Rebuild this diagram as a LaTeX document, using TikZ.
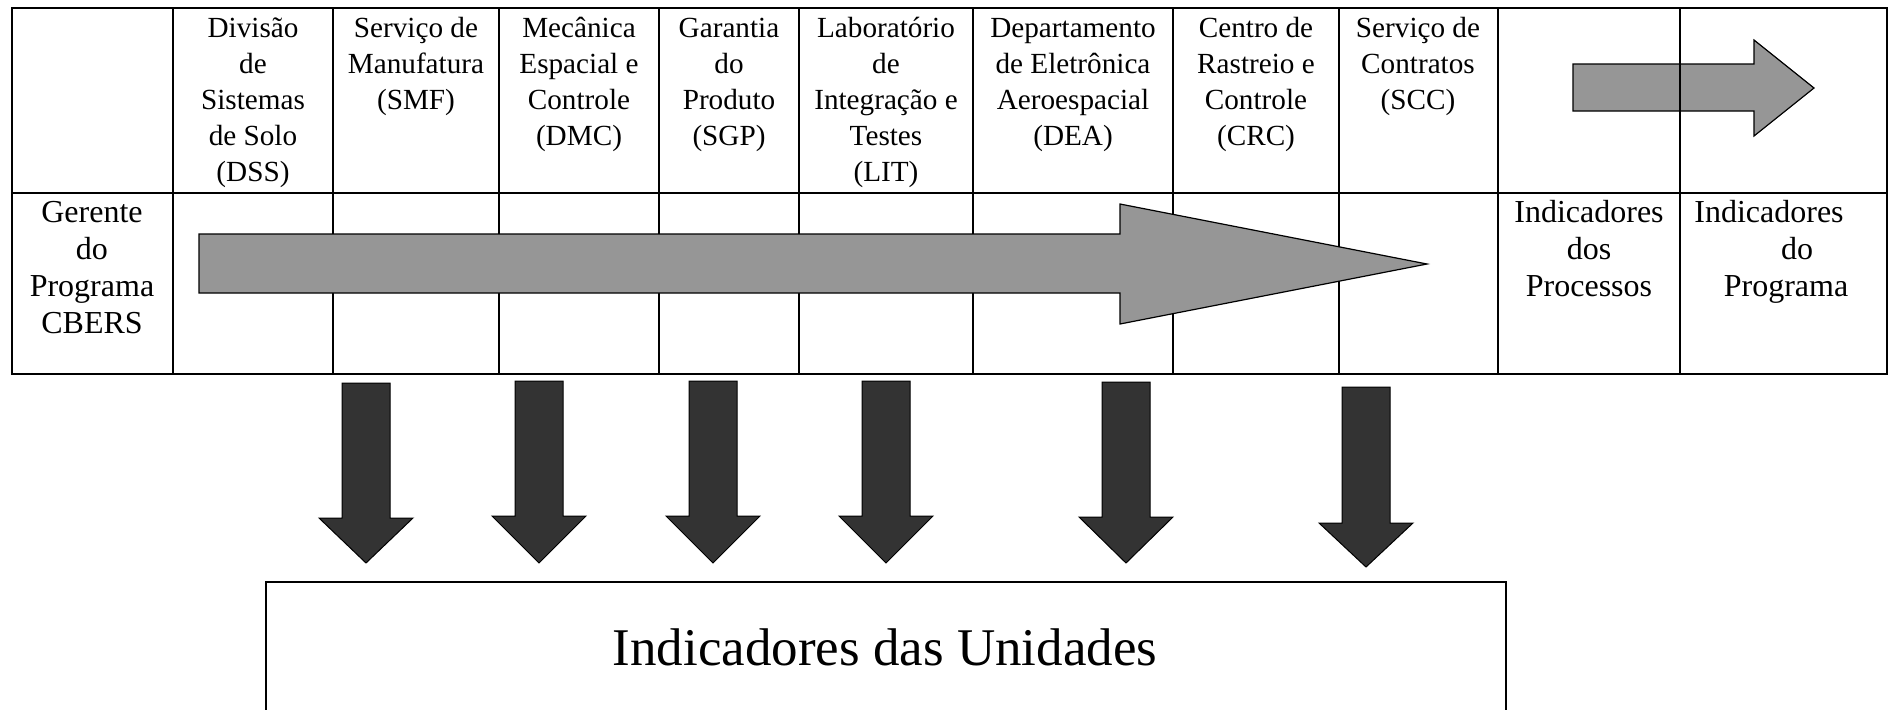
\documentclass[tikz,border=0pt]{standalone}
\usepackage{fontspec}
\setmainfont{Liberation Serif}
\definecolor{cinza}{HTML}{969696}
\definecolor{escuro}{HTML}{333333}
\tikzset{
  grade/.style={line width=1pt},
  celula/.style={align=center, anchor=base, inner sep=0, font=\fontsize{14.6}{18}\selectfont},
  linha/.style={celula, font=\fontsize{16}{18.35}\selectfont},
  setacinza/.style={draw=black, line width=0.6pt, fill=cinza},
  setaescura/.style={draw=black, line width=0.5pt, fill=escuro},
}

\begin{document}
\begin{tikzpicture}[x=0.5pt, y=-0.5pt]
	\useasboundingbox (0,0) rectangle (1890,709);

	% seta pequena, sob a grade
	\draw[setacinza] (1573,64) -- (1754,64) -- (1754,40) -- (1814,88) -- (1754,136) -- (1754,111) -- (1573,111) -- cycle;

	% grade
	\draw[grade] (12,8) rectangle (1887,374);
	\draw[grade] (12,193) -- (1887,193);
	\draw[grade] (173,8) -- (173,374);
	\draw[grade] (333,8) -- (333,374);
	\draw[grade] (499,8) -- (499,374);
	\draw[grade] (659,8) -- (659,374);
	\draw[grade] (799,8) -- (799,374);
	\draw[grade] (973,8) -- (973,374);
	\draw[grade] (1173,8) -- (1173,374);
	\draw[grade] (1339,8) -- (1339,374);
	\draw[grade] (1498,8) -- (1498,374);
	\draw[grade] (1680,8) -- (1680,374);

	% seta grande
	\draw[setacinza] (199,234) -- (1120,234) -- (1120,204) -- (1427,264) -- (1120,324) -- (1120,293) -- (199,293) -- cycle;

	% unidades (base = ultima linha)
	\node (dss) at (253,181) [celula] {Divisão\\de\\Sistemas\\de Solo\\(DSS)};
	\node (smf) at (416,109) [celula] {Serviço de\\Manufatura\\(SMF)};
	\node (dmc) at (579,145) [celula] {Mecânica\\Espacial e\\Controle\\(DMC)};
	\node (sgp) at (729,145) [celula] {Garantia\\do\\Produto\\(SGP)};
	\node (lit) at (886,181) [celula] {Laboratório\\de\\Integração e\\Testes\\(LIT)};
	\node (dea) at (1073,145) [celula] {Departamento\\de Eletrônica\\Aeroespacial\\(DEA)};
	\node (crc) at (1256,145) [celula] {Centro de\\Rastreio e\\Controle\\(CRC)};
	\node (scc) at (1418,109) [celula] {Serviço de\\Contratos\\(SCC)};

	\node (gerente) at (92,333) [linha] {Gerente\\do\\Programa\\CBERS};
	\node (processos) at (1589,296) [linha] {Indicadores\\dos\\Processos};
	\node (programa) at (1769,296) [linha] {Indicadores\\\hspace*{28pt}do\\\hspace*{17pt}Programa};

	% setas para baixo
	\draw[setaescura] (342,383) -- (390,383) -- (390,518) -- (413,518) -- (366,563) -- (319,518) -- (342,518) -- cycle;
	\draw[setaescura] (515,381) -- (563,381) -- (563,516) -- (586,516) -- (539,563) -- (492,516) -- (515,516) -- cycle;
	\draw[setaescura] (689,381) -- (737,381) -- (737,516) -- (760,516) -- (713,563) -- (666,516) -- (689,516) -- cycle;
	\draw[setaescura] (862,381) -- (910,381) -- (910,516) -- (933,516) -- (886,563) -- (839,516) -- (862,516) -- cycle;
	\draw[setaescura] (1102,382) -- (1150,382) -- (1150,517) -- (1173,517) -- (1126,563) -- (1079,517) -- (1102,517) -- cycle;
	\draw[setaescura] (1342,387) -- (1390,387) -- (1390,523) -- (1413,523) -- (1366,567) -- (1319,523) -- (1342,523) -- cycle;

	% caixa de baixo
	\draw[grade] (266,582) rectangle (1506,740);
	\node (unidades) at (885,665) [anchor=base, inner sep=0, font=\fontsize{26.5}{32}\selectfont] {Indicadores das Unidades};
\end{tikzpicture}
\end{document}
